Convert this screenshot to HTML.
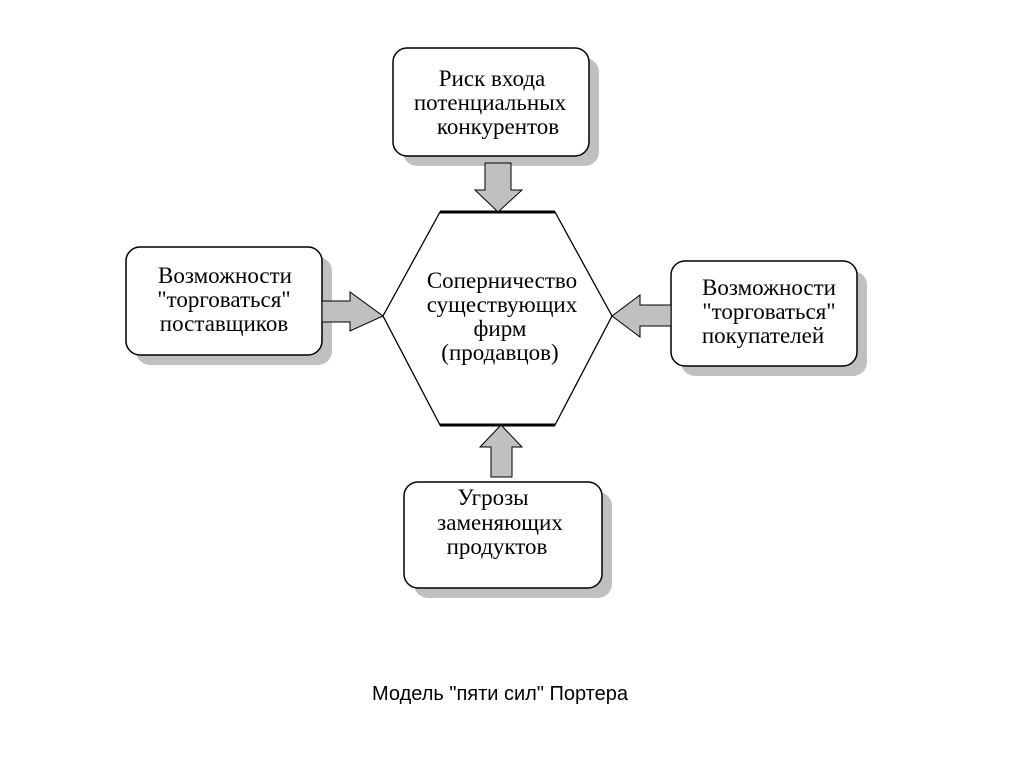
<!DOCTYPE html>
<html><head><meta charset="utf-8"><style>
html,body{margin:0;padding:0;background:#fff;}
svg{display:block;}
text{font-family:"Liberation Serif","Noto Serif CJK SC",serif;font-size:23px;fill:#000;}
.cap{font-family:"Liberation Sans","Noto Sans CJK SC",sans-serif;font-size:20px;}
</style></head><body>
<svg width="1024" height="767" viewBox="0 0 1024 767">
<g fill="#c0c0c0">
<rect x="403" y="58" width="196" height="108" rx="14"/>
<rect x="136" y="257" width="196" height="108" rx="14"/>
<rect x="681" y="271" width="186" height="105" rx="14"/>
<rect x="414" y="492" width="198" height="106" rx="14"/>
</g>
<g fill="#fff" stroke="#000" stroke-width="1.5">
<rect x="393" y="48" width="196" height="108" rx="14"/>
<rect x="126" y="247" width="196" height="108" rx="14"/>
<rect x="671" y="261" width="186" height="105" rx="14"/>
<rect x="404" y="482" width="198" height="106" rx="14"/>
</g>
<polygon points="440,212 555,212 612,316 555,425 440,425 383,316" fill="#fff" stroke="#000" stroke-width="1.3"/>
<line x1="440" y1="212" x2="555" y2="212" stroke="#000" stroke-width="3"/>
<line x1="440" y1="425" x2="555" y2="425" stroke="#000" stroke-width="3"/>
<g fill="#c0c0c0" stroke="#000" stroke-width="1">
<polygon points="485,163 511,163 511,190 522,190 498,212 475,190 485,190"/>
<polygon points="322,301 350,301 350,292 383,316 350,331 350,322 322,322"/>
<polygon points="671,305 640,305 640,295 612,316 640,337 640,326 671,326"/>
<polygon points="491,477 512,477 512,447 522,447 501,425 480,447 491,447"/>
</g>
<g text-anchor="middle">
<text x="492" y="86">Риск входа</text>
<text x="490" y="110">потенциальных</text>
<text x="498" y="134">конкурентов</text>
<text x="225" y="283">Возможности</text>
<text x="224" y="307">"торговаться"</text>
<text x="224" y="331">поставщиков</text>
<text x="769" y="295">Возможности</text>
<text x="769" y="319">"торговаться"</text>
<text x="763" y="343">покупателей</text>
<text x="502" y="288">Соперничество</text>
<text x="502" y="312">существующих</text>
<text x="500" y="336">фирм</text>
<text x="500" y="360">(продавцов)</text>
<text x="493" y="505">Угрозы</text>
<text x="500" y="530">заменяющих</text>
<text x="497" y="554">продуктов</text>
<text class="cap" x="500" y="700">Модель "пяти сил" Портера</text>
</g>
</svg>
</body></html>
